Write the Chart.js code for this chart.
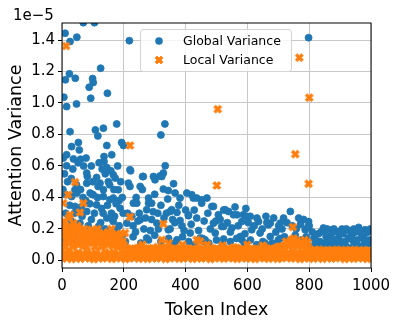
<!doctype html>
<html lang="en">
<head>
<meta charset="utf-8">
<title>Attention Variance per Token</title>
<style>
  * { margin: 0; padding: 0; }
  body { background: #fff; font-family: 'DejaVu Sans', sans-serif; }
  .chartBox { position: relative; width: 399px; height: 321px; }
  .legend {
    position: absolute; left: 140px; top: 29px; width: 150px; height: 41px;
    border: 1px solid #d4d4d4; border-radius: 3px; background: rgba(255,255,255,0.8);
    font-size: 12.5px; color: #000;
  }
  .legend .item { position: absolute; left: 42px; height: 16px; line-height: 16px; white-space: nowrap; }
  .legend svg { position: absolute; left: 13px; }
</style>
</head>
<body>
<div class="chartBox">
  <canvas id="myChart" width="399" height="321"></canvas>
  <div class="legend">
    <svg style="top:6px" width="10" height="10"><circle cx="5" cy="5" r="3.8" fill="#1f77b4"/></svg>
    <div class="item" style="top:3px">Global Variance</div>
    <svg style="top:25px" width="10" height="10"><path transform="translate(5,5)" d="M-2,-4L0,-2L2,-4L4,-2L2,0L4,2L2,4L0,2L-2,4L-4,2L-2,0L-4,-2Z" fill="#ff7f0e" stroke="#ff7f0e" stroke-width="0.8"/></svg>
    <div class="item" style="top:22px">Local Variance</div>
  </div>
</div>
<script src="https://cdn.jsdelivr.net/npm/chart.js/dist/chart.umd.min.js"></script>
<script>
// values are in units of 1e-5
const xTicks = [0, 200, 400, 600, 800, 1000];
const yTicks = [0.0, 0.2, 0.4, 0.6, 0.8, 1.0, 1.2, 1.4];

// global variance: token index / variance
const globalIdx = [
  10, 48, 26, 69, 105, 218, 798, 125, 24, 11,
  43, 99, 101, 88, 147, 6, 93, 47, 15, 177,
  333, 320, 108, 134, 116, 26, 193, 145, 53, 31,
  56, 199, 161, 136, 15, 4, 37, 60, 136, 15,
  145, 166, 158, 222, 261, 82, 112, 172, 215, 123,
  47, 80, 117, 154, 220, 253, 101, 31, 134, 166,
  242, 112, 42, 188, 80, 145, 166, 253, 210, 58,
  118, 75, 177, 37, 80, 220, 263, 296, 328, 134,
  182, 42, 48, 91, 155, 231, 280, 404, 425, 5,
  20, 30, 50, 65, 85, 95, 110, 125, 140, 150,
  170, 185, 195, 12, 25, 55, 68, 90, 105, 128,
  160, 175, 195, 10, 60, 100, 140, 190, 8, 30,
  70, 120, 180, 230, 250, 265, 290, 310, 330, 350,
  365, 395, 240, 300, 320, 260, 334, 301, 317, 361,
  328, 344, 366, 420, 382, 436, 469, 452, 280, 290,
  274, 355, 372, 409, 436, 485, 506, 528, 382, 307,
  344, 517, 496, 415, 274, 372, 458, 323, 350, 409,
  452, 490, 447, 463, 539, 566, 598, 631, 663, 582,
  550, 614, 641, 523, 582, 739, 766, 717, 798, 668,
  701, 787, 846, 874, 906, 944, 981, 674, 663, 820,
  884, 927, 971, 852, 917, 992, 490, 523, 577, 657,
  706, 555, 587, 609, 636, 674, 706, 523, 595, 560,
  205, 230, 255, 280, 300, 320, 345, 365, 390, 410,
  430, 455, 475, 500, 520, 545, 565, 590, 610, 630,
  650, 680, 700, 720, 735, 755, 775, 790,
  805, 825, 845, 865, 885, 905, 925, 945, 965, 985,
  815, 835, 855, 875, 895, 915, 935, 955, 975, 995,
  810, 830, 850, 870, 890, 910, 930, 950, 970, 990,
  3, 18, 35, 52, 78, 95, 130, 150, 168, 185,
  22, 40, 62, 77, 97, 115, 133, 147, 163, 198,
  16, 45, 70, 88, 132, 158, 183,
  212, 226, 238, 246, 270, 286, 295, 312, 338, 342,
  358, 378, 388, 400, 418, 428, 442, 460, 472, 480, 498,
  512, 535, 545, 570, 592, 603, 622, 648, 660,
  685, 692, 712, 728, 745, 758, 772, 782, 795,
  800, 838, 858, 880, 900, 920, 940, 960, 980, 998,
  820, 860, 900, 940, 980
];
const globalVar = [
  1.443, 1.418, 1.39, 1.51, 1.51, 1.396, 1.415, 1.221, 1.185, 1.147,
  1.157, 1.155, 1.13, 1.10, 1.062, 1.037, 1.03, 0.994, 0.977, 0.867,
  0.867, 0.797, 0.829, 0.84, 0.791, 0.818, 0.749, 0.73, 0.749, 0.723,
  0.702, 0.73, 0.671, 0.66, 0.671, 0.65, 0.645, 0.643, 0.628, 0.601,
  0.59, 0.544, 0.569, 0.569, 0.533, 0.533, 0.527, 0.523, 0.491, 0.491,
  0.48, 0.49, 0.47, 0.48, 0.47, 0.47, 0.417, 0.406, 0.406, 0.396,
  0.364, 0.353, 0.343, 0.332, 0.311, 0.269, 0.247, 0.258, 0.237, 0.237,
  0.216, 0.174, 0.195, 0.131, 0.555, 0.576, 0.533, 0.533, 0.555, 0.449,
  0.449, 0.449, 0.428, 0.428, 0.385, 0.364, 0.364, 0.428, 0.396, 0.15,
  0.2, 0.25, 0.19, 0.28, 0.22, 0.26, 0.18, 0.24, 0.2, 0.15,
  0.28, 0.22, 0.16, 0.3, 0.35, 0.32, 0.4, 0.36, 0.3, 0.33,
  0.3, 0.36, 0.4, 0.42, 0.45, 0.5, 0.55, 0.5, 0.55, 0.52,
  0.6, 0.62, 0.6, 0.22, 0.3, 0.2, 0.26, 0.3, 0.27, 0.2,
  0.24, 0.19, 0.4, 0.42, 0.35, 0.45, 0.601, 0.512, 0.537, 0.487,
  0.453, 0.444, 0.428, 0.417, 0.396, 0.396, 0.396, 0.385, 0.396, 0.364,
  0.322, 0.322, 0.305, 0.284, 0.269, 0.343, 0.29, 0.322, 0.254, 0.237,
  0.195, 0.216, 0.174, 0.174, 0.142, 0.131, 0.121, 0.533, 0.311, 0.29,
  0.364, 0.343, 0.142, 0.131, 0.311, 0.29, 0.279, 0.269, 0.241, 0.247,
  0.206, 0.195, 0.174, 0.136, 0.131, 0.311, 0.269, 0.269, 0.247, 0.226,
  0.22, 0.195, 0.206, 0.195, 0.199, 0.199, 0.195, 0.152, 0.089, 0.131,
  0.131, 0.142, 0.152, 0.11, 0.1, 0.11, 0.237, 0.216, 0.152, 0.11,
  0.14, 0.29, 0.29, 0.28, 0.247, 0.237, 0.237, 0.32, 0.33, 0.34,
  0.12, 0.15, 0.11, 0.13, 0.16, 0.12, 0.14, 0.11, 0.15, 0.12,
  0.1, 0.14, 0.11, 0.13, 0.1, 0.12, 0.14, 0.11, 0.13, 0.1,
  0.12, 0.11, 0.13, 0.15, 0.12, 0.16, 0.13, 0.15,
  0.09, 0.1, 0.08, 0.1, 0.09, 0.11, 0.08, 0.1, 0.09, 0.1,
  0.14, 0.12, 0.15, 0.13, 0.14, 0.12, 0.15, 0.13, 0.14, 0.13,
  0.18, 0.17, 0.19, 0.16, 0.18, 0.17, 0.19, 0.18, 0.17, 0.18,
  0.45, 0.5, 0.58, 0.62, 0.65, 0.6, 0.58, 0.5, 0.45, 0.38,
  0.28, 0.3, 0.34, 0.38, 0.42, 0.4, 0.3, 0.35, 0.26, 0.3,
  0.12, 0.15, 0.13, 0.16, 0.12, 0.17, 0.13,
  0.3, 0.28, 0.18, 0.25, 0.27, 0.19, 0.31, 0.2, 0.3, 0.39,
  0.26, 0.35, 0.22, 0.32, 0.23, 0.32, 0.19, 0.25, 0.3, 0.2, 0.25,
  0.26, 0.24, 0.18, 0.22, 0.17, 0.24, 0.22, 0.2, 0.28,
  0.27, 0.18, 0.2, 0.24, 0.22, 0.2, 0.23, 0.26, 0.21,
  0.22, 0.18, 0.2, 0.2, 0.18, 0.2, 0.17, 0.21, 0.17, 0.2,
  0.1, 0.13, 0.1, 0.13, 0.12
];

// local variance: token index / variance
const localIdx = [
  13, 220, 504, 768, 800, 755, 501, 798, 747, 42,
  20, 4, 69, 58, 26, 220, 37, 96, 134, 10,
  328, 323, 447, 436, 742, 776, 566, 15, 47, 91,
  145, 177, 204, 6, 22, 33, 50, 72, 115, 160,
  3, 14, 28, 40, 53, 64, 79, 87, 100, 113,
  127, 141, 156, 170, 185, 196, 260, 345, 390, 470,
  520, 600, 650, 725, 750, 760, 785, 795,
  8, 18, 35, 44, 60, 82, 108, 120, 150, 165, 190,
  1, 12, 24, 30, 55, 66,
  2, 16, 31, 45, 60, 74, 89, 103, 118, 132,
  147, 161, 176, 190, 205, 219, 234, 248, 263, 277,
  292, 306, 321, 335, 350, 364, 379, 393, 408, 422,
  437, 451, 466, 480, 495, 509, 524, 538, 553, 567,
  582, 596, 611, 625, 640, 654, 669, 683, 698, 712,
  727, 741, 756, 770, 785, 799, 814, 828, 843, 857,
  872, 886, 901, 915, 930, 944, 959, 973, 988, 998,
  13, 27, 42, 56, 71, 85, 100, 114, 129, 143,
  158, 172, 187, 201, 216, 230, 245, 259, 274, 288,
  303, 317, 332, 346, 361, 375, 390, 404, 419, 433,
  448, 462, 477, 491, 506, 520, 535, 549, 564, 578,
  593, 607, 622, 636, 651, 665, 680, 694, 709, 723,
  738, 752, 767, 781, 796, 810, 825, 839, 854, 868,
  883, 897, 912, 926, 941, 955, 970, 984, 995,
  9, 23, 38, 52, 67, 81, 96, 110, 125, 139,
  154, 168, 183, 197, 212, 226, 241, 255, 270, 284,
  299, 313, 328, 342, 357, 371, 386, 400, 415, 429,
  444, 458, 473, 487, 502, 516, 531, 545, 560, 574,
  589, 603, 618, 632, 647, 661, 676, 690, 705, 719,
  734, 748, 763, 777, 792, 806, 821, 835, 850, 864,
  879, 893, 908, 922, 937, 951, 966, 980, 993,
  12, 26, 41, 55, 70, 84, 99, 113, 128, 142,
  157, 171, 186, 200, 215, 229, 244, 258, 273, 287,
  302, 316, 331, 345, 360, 374, 389, 403, 418, 432,
  447, 461, 476, 490, 505, 519, 534, 548, 563, 577,
  592, 606, 621, 635, 650, 664, 679, 693, 708, 722,
  737, 751, 766, 780, 795, 809, 824, 838, 853, 867,
  882, 896, 911, 925, 940, 954, 969, 983, 996,
  5, 19, 34, 48, 63, 77, 92, 106, 121, 135,
  150, 164, 179, 193, 208, 222, 237, 251, 266, 280,
  295, 309, 324, 338, 353, 367, 382, 396, 411, 425,
  440, 454, 469, 483, 498, 512, 527, 541, 556, 570,
  585, 599, 614, 628, 643, 657, 672, 686, 701, 715,
  730, 744, 759, 773, 788, 802, 817, 831, 846, 860,
  875, 889, 904, 918, 933, 947, 962, 976, 991
];
const localVar = [
  1.362, 0.73, 0.961, 1.288, 1.034, 0.675, 0.476, 0.487, 0.212, 0.497,
  0.417, 0.364, 0.364, 0.305, 0.29, 0.277, 0.237, 0.195, 0.174, 0.216,
  0.232, 0.131, 0.121, 0.131, 0.131, 0.11, 0.079, 0.184, 0.184, 0.163,
  0.163, 0.163, 0.174, 0.25, 0.27, 0.21, 0.22, 0.2, 0.2, 0.2,
  0.15, 0.13, 0.16, 0.14, 0.12, 0.15, 0.13, 0.145, 0.12, 0.14,
  0.13, 0.15, 0.12, 0.14, 0.13, 0.12, 0.1, 0.11, 0.1, 0.1,
  0.095, 0.1, 0.095, 0.12, 0.14, 0.125, 0.13, 0.115,
  0.19, 0.17, 0.18, 0.2, 0.17, 0.18, 0.17, 0.16, 0.18, 0.16, 0.17,
  0.2, 0.22, 0.19, 0.185, 0.2, 0.18,
  0.012, 0.018, 0.009, 0.015, 0.011, 0.02, 0.013, 0.008, 0.016, 0.012,
  0.019, 0.01, 0.014, 0.017, 0.009, 0.013, 0.018, 0.011, 0.015, 0.01,
  0.016, 0.012, 0.019, 0.009, 0.014, 0.017, 0.011, 0.013, 0.02, 0.01,
  0.015, 0.012, 0.018, 0.009, 0.014, 0.016, 0.011, 0.019, 0.013, 0.01,
  0.017, 0.012, 0.015, 0.009, 0.018, 0.013, 0.011, 0.016, 0.01, 0.014,
  0.019, 0.012, 0.017, 0.009, 0.015, 0.013, 0.011, 0.018, 0.01, 0.016,
  0.012, 0.014, 0.019, 0.009, 0.015, 0.011, 0.017, 0.013, 0.01, 0.016,
  0.03, 0.026, 0.033, 0.028, 0.031, 0.025, 0.034, 0.029, 0.027, 0.032,
  0.029, 0.033, 0.026, 0.031, 0.028, 0.034, 0.027, 0.03, 0.025, 0.032,
  0.031, 0.027, 0.034, 0.029, 0.026, 0.032, 0.028, 0.033, 0.03, 0.025,
  0.028, 0.032, 0.027, 0.03, 0.034, 0.026, 0.031, 0.029, 0.033, 0.027,
  0.033, 0.029, 0.025, 0.031, 0.028, 0.034, 0.03, 0.026, 0.032, 0.035,
  0.038, 0.036, 0.04, 0.035, 0.039, 0.03, 0.027, 0.031, 0.028, 0.032,
  0.029, 0.026, 0.031, 0.028, 0.033, 0.027, 0.03, 0.025, 0.029,
  0.045, 0.052, 0.038, 0.05, 0.042, 0.055, 0.04, 0.048, 0.036, 0.053,
  0.044, 0.05, 0.039, 0.047, 0.041, 0.054, 0.037, 0.049, 0.043, 0.051,
  0.038, 0.046, 0.052, 0.04, 0.048, 0.036, 0.05, 0.043, 0.039, 0.047,
  0.053, 0.041, 0.045, 0.037, 0.049, 0.042, 0.051, 0.038, 0.046, 0.044,
  0.04, 0.052, 0.036, 0.048, 0.043, 0.05, 0.039, 0.054, 0.045, 0.047,
  0.05, 0.056, 0.048, 0.052, 0.055, 0.044, 0.04, 0.046, 0.038, 0.043,
  0.041, 0.047, 0.037, 0.044, 0.04, 0.046, 0.039, 0.043, 0.045,
  0.085, 0.13, 0.1, 0.12, 0.095, 0.14, 0.11, 0.125, 0.09, 0.135,
  0.105, 0.12, 0.095, 0.1, 0.072, 0.065, 0.078, 0.06, 0.07, 0.075,
  0.064, 0.07, 0.08, 0.066, 0.073, 0.06, 0.068, 0.076, 0.062, 0.07,
  0.065, 0.072, 0.06, 0.074, 0.068, 0.063, 0.071, 0.066, 0.078, 0.061,
  0.069, 0.064, 0.073, 0.06, 0.07, 0.075, 0.065, 0.08, 0.088, 0.095,
  0.1, 0.11, 0.098, 0.105, 0.09, 0.062, 0.058, 0.064, 0.056, 0.061,
  0.059, 0.063, 0.055, 0.062, 0.058, 0.06, 0.057, 0.061, 0.058,
  0.1, 0.115, 0.09, 0.12, 0.105, 0.095, 0.118, 0.088, 0.11, 0.1,
  0.112, 0.092, 0.108, 0.085, 0.08, 0.075, 0.07, 0.082, 0.068, 0.078,
  0.072, 0.085, 0.07, 0.08, 0.066, 0.075, 0.082, 0.068, 0.074, 0.07,
  0.078, 0.066, 0.073, 0.08, 0.07, 0.076, 0.068, 0.074, 0.083, 0.07,
  0.072, 0.078, 0.066, 0.075, 0.07, 0.08, 0.068, 0.074, 0.085, 0.09,
  0.1, 0.095, 0.108, 0.092, 0.1, 0.07, 0.065, 0.068, 0.062, 0.066,
  0.064, 0.068, 0.06, 0.066, 0.063, 0.067, 0.061, 0.065, 0.062
];

const BLUE = '#1f77b4';
const ORANGE = '#ff7f0e';

// filled "X" marker like matplotlib's (square with notched sides)
function makeXMarker(color) {
  const c = document.createElement('canvas');
  c.width = 11; c.height = 11;
  const g = c.getContext('2d');
  g.translate(5.5, 5.5);
  const pts = [[-2,-4],[0,-2],[2,-4],[4,-2],[2,0],[4,2],
               [2,4],[0,2],[-2,4],[-4,2],[-2,0],[-4,-2]];
  g.beginPath();
  pts.forEach((p, i) => i ? g.lineTo(p[0], p[1]) : g.moveTo(p[0], p[1]));
  g.closePath();
  g.fillStyle = color;
  g.strokeStyle = color;
  g.lineWidth = 0.9;
  g.lineJoin = 'round';
  g.fill();
  g.stroke();
  return c;
}

const globalPoints = globalIdx.map((t, i) => ({x: t, y: globalVar[i]}));
const localPoints = localIdx.map((t, i) => ({x: t, y: localVar[i]}));

// spines on all four sides + the 1e-5 offset label
const framePlugin = {
  id: 'frame',
  afterDraw(chart) {
    const {ctx, chartArea: a} = chart;
    ctx.save();
    ctx.strokeStyle = '#000';
    ctx.lineWidth = 1;
    ctx.strokeRect(a.left, a.top, a.right - a.left, a.bottom - a.top);
    ctx.fillStyle = '#000';
    ctx.font = "15px 'DejaVu Sans'";
    ctx.textAlign = 'left';
    ctx.textBaseline = 'alphabetic';
    ctx.fillText('1e\u22125', 13, 20);
    ctx.restore();
  }
};

const tickFont = {family: "'DejaVu Sans'", size: 15};
const titleFont = {family: "'DejaVu Sans'", size: 17.5, lineHeight: 1.2};

const myChart = new Chart(document.getElementById('myChart'), {
  type: 'scatter',
  data: {
    datasets: [{
      label: 'Global Variance',
      data: globalPoints,
      backgroundColor: BLUE,
      borderColor: BLUE,
      borderWidth: 0.8,
      pointRadius: 3.5,
      order: 1
    }, {
      label: 'Local Variance',
      data: localPoints,
      pointStyle: makeXMarker(ORANGE),
      backgroundColor: ORANGE,
      borderColor: ORANGE,
      order: 0
    }]
  },
  options: {
    responsive: false,
    animation: false,
    layout: {padding: {left: 0, right: 28, top: 23, bottom: 0}},
    plugins: {legend: {display: false}, tooltip: {enabled: false}},
    scales: {
      x: {
        type: 'linear', min: 0, max: 1000,
        afterBuildTicks: s => { s.ticks = xTicks.map(v => ({value: v})); },
        afterFit: s => { s.height = 53; },
        grid: {color: '#c8c8c8', lineWidth: 1, tickColor: '#000', tickLength: 4},
        border: {display: false},
        ticks: {color: '#000', font: tickFont, padding: 5, maxRotation: 0,
                callback: v => String(v)},
        title: {display: true, text: 'Token Index', color: '#000', font: titleFont,
                padding: {top: 8, bottom: 0}}
      },
      y: {
        type: 'linear', min: -0.048, max: 1.508,
        afterBuildTicks: s => { s.ticks = yTicks.map(v => ({value: v})); },
        afterFit: s => { s.width = 62; },
        grid: {color: '#c8c8c8', lineWidth: 1, tickColor: '#000', tickLength: 4},
        border: {display: false},
        ticks: {color: '#000', font: tickFont, padding: 3,
                callback: v => Number(v).toFixed(1)},
        title: {display: true, text: 'Attention Variance', color: '#000', font: titleFont,
                padding: {top: 6, bottom: 0}}
      }
    }
  },
  plugins: [framePlugin]
});
</script>
</body>
</html>
